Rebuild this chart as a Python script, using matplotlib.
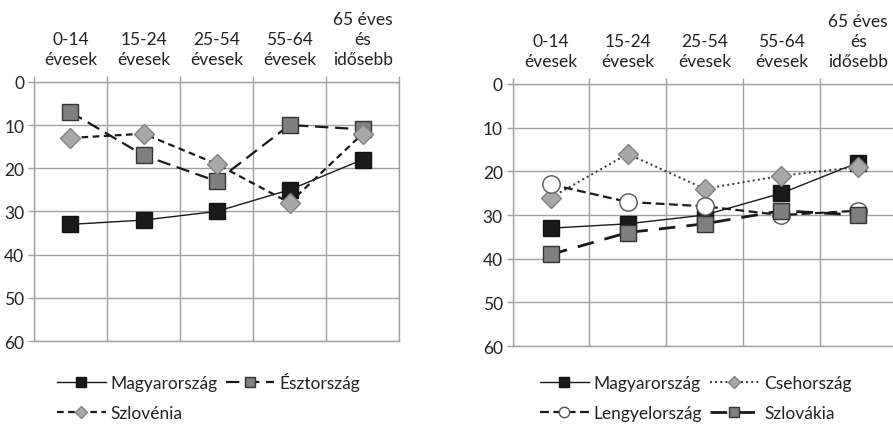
import matplotlib
matplotlib.use("Agg")
import matplotlib.pyplot as plt

plt.rcParams["font.family"] = ["Lato", "DejaVu Sans"]

# korcsoportok
categories = [
    "0-14\névesek",
    "15-24\névesek",
    "25-54\névesek",
    "55-64\névesek",
    "65 éves\nés\nidősebb",
]
y_ticks = [0, 10, 20, 30, 40, 50, 60]

# bal oldali grafikon
left_hu = [33, 32, 30, 25, 18]
left_ee = [7, 17, 23, 10, 11]
left_si = [13, 12, 19, 28, 12]

# jobb oldali grafikon
right_hu = [33, 32, 30, 25, 18]
right_cz = [26, 16, 24, 21, 19]
right_pl = [23, 27, 28, 30, 29]
right_sk = [39, 34, 32, 29, 30]

GRID = "#a0a0a0"
FS = 12.5


def style_axes(ax):
    """Excel-szeru tengelyek: kategoriak felul, forditott y tengely"""
    n = len(categories)
    ax.set_xlim(-0.5, n - 0.5)
    ax.set_ylim(60, 0)
    ax.set_xticks([i - 0.5 for i in range(n + 1)])
    ax.set_xticklabels([])
    ax.set_xticks(range(n), minor=True)
    ax.set_xticklabels(categories, minor=True)
    ax.set_yticks(y_ticks)
    ax.xaxis.tick_top()
    ax.tick_params(axis="x", which="major", direction="out", length=4,
                   color=GRID, width=1)
    ax.tick_params(axis="x", which="minor", length=0, pad=11,
                   labelsize=FS, labelcolor="#222222")
    ax.tick_params(axis="y", direction="out", length=4, color=GRID,
                   width=1, pad=3, labelsize=FS, labelcolor="#222222")
    for t in ax.get_xticklabels(minor=True):
        t.set_linespacing(1.3)
    ax.grid(True, which="major", color=GRID, lw=1)
    for s in ax.spines.values():
        s.set_color(GRID)
        s.set_linewidth(1)
    ax.set_axisbelow(True)


def add_legend(ax, handles, anchor):
    ax.legend(handles, [h.get_label() for h in handles],
              ncol=2, loc="upper left", bbox_to_anchor=anchor,
              bbox_transform=fig.transFigure, frameon=False, borderpad=0,
              handlelength=2.8, handletextpad=0.3, columnspacing=0.45,
              labelspacing=0.8, numpoints=1, markerscale=0.6,
              fontsize=FS, labelcolor="#222222")


fig = plt.figure(figsize=(8.93, 4.27), dpi=100)
ax1 = fig.add_axes([0.038, 0.199, 0.409, 0.607])
ax2 = fig.add_axes([0.574, 0.187, 0.43, 0.614])
x = range(len(categories))

# bal
h1, = ax1.plot(x, left_hu, "-", color="#1a1a1a", lw=1, marker="s",
               ms=11.5, mfc="#1a1a1a", mec="#111111", label="Magyarország")
h2, = ax1.plot(x, left_ee, color="#1a1a1a", lw=1.6, dashes=(6, 3),
               marker="s", ms=11.5, mfc="#7f7f7f", mec="#333333",
               label="Észtország")
h3, = ax1.plot(x, left_si, color="#1a1a1a", lw=1.6, dashes=(3, 2),
               marker="D", ms=10, mfc="#a8a8a8", mec="#808080",
               label="Szlovénia")
style_axes(ax1)
add_legend(ax1, [h1, h3, h2], (0.054, 0.147))

# jobb
g1, = ax2.plot(x, right_hu, "-", color="#1a1a1a", lw=1, marker="s",
               ms=12, mfc="#1a1a1a", mec="#111111", label="Magyarország")
g2, = ax2.plot(x, right_cz, color="#333333", lw=1.4, linestyle=":",
               marker="D", ms=10, mfc="#a8a8a8", mec="#808080",
               label="Csehország")
g3, = ax2.plot(x, right_pl, color="#1a1a1a", lw=1.6, dashes=(4, 2),
               marker="o", ms=12.5, mfc="white", mec="#555555",
               label="Lengyelország")
g4, = ax2.plot(x, right_sk, color="#1a1a1a", lw=2, dashes=(6, 4),
               marker="s", ms=12, mfc="#7f7f7f", mec="#333333",
               label="Szlovákia")
style_axes(ax2)
add_legend(ax2, [g1, g3, g2, g4], (0.595, 0.139))

fig.savefig("out.png", dpi=100)
